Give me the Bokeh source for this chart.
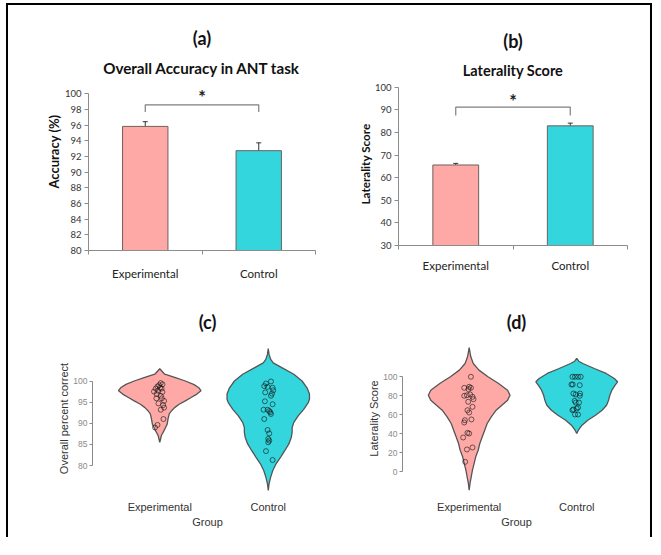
import numpy as np
from bokeh.plotting import figure
from bokeh.models import Range1d, FixedTicker, Title, Whisker, TeeHead, ColumnDataSource
from bokeh.layouts import column, row
from bokeh.embed import file_html
from bokeh.resources import INLINE
from bokeh.core.properties import value

# ---------------- data ----------------
groups = ["Experimental", "Control"]
colors = ["#FFA9A6", "#33D6DD"]

# (a) overall accuracy (%) mean and error
acc_mean = [95.85, 92.75]
acc_err = [0.6, 1.0]
acc_bracket = [98.6, 97.7]   # bracket top, leg bottom
acc_star = 99.6

# (b) laterality score mean and error
lat_mean = [65.6, 82.9]
lat_err = [0.7, 1.2]
lat_bracket = [91.2, 87.5]
lat_star = 93.8

# (c) violin profiles: value levels and relative half widths
c_exp_lv = [102.9, 101.6, 100.8, 100.0, 99.2, 98.4, 97.7, 96.9, 96.1, 95.3, 94.5,
            93.7, 92.9, 92.2, 91.0, 89.8, 89.0, 88.2, 87.1, 85.5]
c_exp_w = [0.0, 0.12, 0.38, 0.62, 0.82, 0.95, 1.0, 0.90, 0.76, 0.62, 0.47,
           0.36, 0.28, 0.23, 0.20, 0.18, 0.14, 0.10, 0.04, 0.0]
c_ctl_lv = [107.7, 106.3, 105.1, 104.3, 103.1, 101.6, 100.0, 98.4, 96.9, 95.7, 94.9,
            93.3, 91.8, 90.2, 89.0, 87.9, 86.7, 85.1, 83.5, 82.0, 80.4, 78.8, 77.3, 75.7, 74.1]
c_ctl_w = [0.0, 0.02, 0.06, 0.12, 0.34, 0.62, 0.82, 0.94, 1.0, 1.0, 0.97,
           0.86, 0.73, 0.62, 0.58, 0.58, 0.56, 0.50, 0.40, 0.30, 0.19, 0.11, 0.06, 0.02, 0.0]

# (c) individual scores and jitter (category units)
c_exp_pts = [99.5, 99.2, 99.0, 98.7, 98.4, 98.2, 98.2, 97.7, 97.5, 97.4, 96.9,
             96.5, 95.9, 95.9, 95.3, 94.7, 94.3, 93.7, 93.2, 91.0, 89.6, 89.0]
c_exp_jit = [0.009, 0.025, -0.006, -0.021, 0.003, -0.037, 0.016, -0.016, -0.053, 0.025, -0.028,
             0.009, -0.031, 0.019, 0.04, -0.012, 0.031, 0.04, 0.009, 0.034, -0.021, -0.044]
c_ctl_pts = [99.9, 99.4, 98.8, 98.6, 98.4, 97.8, 97.3, 97.0, 96.5, 95.2, 94.5, 93.2,
             93.2, 92.9, 92.6, 92.2, 91.0, 88.4, 87.6, 86.3, 85.9, 85.5, 83.4, 81.3]
c_ctl_jit = [0.025, -0.021, -0.037, -0.006, 0.04, 0.046, -0.028, 0.034, 0.025, -0.031, 0.04, -0.043,
             -0.006, 0.009, 0.019, 0.025, -0.037, -0.006, 0.009, 0.0, 0.009, 0.0, -0.021, 0.04]

# (d) violin profiles
d_exp_lv = [130.8, 121.0, 114.0, 107.0, 100.0, 92.9, 85.9, 80.6, 75.4, 70.1, 64.8, 57.9,
            50.8, 43.8, 36.8, 29.8, 22.7, 15.8, 8.7, 1.7, -5.3, -12.3, -19.4]
d_exp_w = [0.0, 0.04, 0.10, 0.24, 0.46, 0.72, 0.94, 1.0, 0.94, 0.80, 0.66, 0.54,
           0.44, 0.38, 0.32, 0.26, 0.22, 0.16, 0.12, 0.08, 0.05, 0.02, 0.0]
d_ctl_lv = [119.3, 116.4, 114.0, 108.7, 103.5, 98.2, 94.7, 91.2, 85.9, 80.6, 75.4, 70.1,
            64.8, 59.6, 54.3, 49.1, 43.8, 40.3]
d_ctl_w = [0.0, 0.05, 0.15, 0.43, 0.72, 0.92, 1.0, 0.94, 0.86, 0.81, 0.78, 0.73,
           0.62, 0.46, 0.27, 0.13, 0.04, 0.0]

# (d) individual scores and jitter
d_exp_pts = [100, 88.4, 89.5, 88.4, 87.0, 80.0, 80.6, 81.4, 78.9, 76.4, 73.7, 68.4,
             64.8, 62.4, 55.1, 54.3, 51.9, 41.0, 40.3, 36.1, 25.6, 23.5, 10.5]
d_exp_jit = [0.016, -0.046, 0.0, 0.016, -0.006, -0.046, -0.021, 0.009, 0.031, 0.04, -0.009, 0.031,
             -0.016, 0.0, 0.021, -0.04, -0.046, -0.016, 0.0, -0.056, 0.031, -0.021, -0.037]
d_ctl_pts = [100, 100, 100, 100, 91.9, 91.9, 91.2, 82.4, 81.4, 82.4, 80.0,
             74.7, 72.9, 72.9, 67.7, 66.6, 65.6, 64.9, 60.3, 60.3]
d_ctl_jit = [-0.04, -0.016, 0.012, 0.037, -0.049, -0.037, 0.028, -0.031, -0.009, 0.031, 0.028,
             -0.019, -0.009, 0.021, 0.012, 0.0, -0.031, -0.04, -0.016, 0.012]

acc_ticks = list(range(80, 101, 2))
lat_ticks = list(range(30, 101, 10))
c_ticks = list(range(80, 101, 5))
d_ticks = list(range(0, 101, 20))

# ---------------- styling helpers ----------------
XC = [i + 0.5 for i in range(len(groups))]
LABELS = {XC[i]: groups[i] for i in range(len(groups))}
XL_FONT = "Lato"
R_FONT = "Liberation Sans"


def base_fig(fw, fh, ml, mr, mt, mb, xr, yr):
    p = figure(frame_width=fw, frame_height=fh, x_range=Range1d(*xr), y_range=Range1d(*yr),
               output_backend="svg", toolbar_location=None, tools="")
    p.min_border_left = ml
    p.min_border_right = mr
    p.min_border_top = mt
    p.min_border_bottom = mb
    p.outline_line_color = None
    p.xgrid.visible = False
    p.ygrid.visible = False
    p.background_fill_color = "white"
    p.border_fill_color = "white"
    return p


def add_titles(p, top, sub, top_size, sub_size, top_stand, sub_stand):
    if sub is not None:
        p.add_layout(Title(text=sub, align="center", text_font=XL_FONT, text_font_size=sub_size,
                           text_font_style="bold", text_color="#111111", standoff=sub_stand), "above")
    p.add_layout(Title(text=top, align="center", text_font=XL_FONT, text_font_size=top_size,
                       text_font_style="bold", text_color="#111111", standoff=top_stand), "above")


def bar_panel(p, means, errs, base, ticks, bracket, star, ylabel, ylab_size, x_stand, ylab_stand):
    src = ColumnDataSource(dict(x=XC, top=means, color=colors,
                                upper=[m + e for m, e in zip(means, errs)],
                                lower=[m - e for m, e in zip(means, errs)]))
    p.vbar(x="x", top="top", bottom=base, width=0.4, fill_color="color",
           line_color="#6e6060", line_width=1, source=src)
    p.add_layout(Whisker(base="x", upper="upper", lower="lower", source=src,
                         line_color="#333333", line_width=1,
                         upper_head=TeeHead(size=5, line_color="#333333", line_width=1),
                         lower_head=TeeHead(size=5, line_color="#333333", line_width=1)))
    p.line(x=[XC[0], XC[0], XC[1], XC[1]], y=[bracket[1], bracket[0], bracket[0], bracket[1]],
           line_color="#7f7f7f", line_width=1.2)
    p.text(x=[(XC[0] + XC[1]) / 2], y=[star], text=["*"], text_align="center",
           text_baseline="middle", text_font=value(XL_FONT), text_font_size="18px",
           text_font_style="bold", text_color="#222222")
    xa = p.xaxis[0]
    xa.ticker = FixedTicker(ticks=XC, minor_ticks=[0, 1, 2])
    xa.major_label_overrides = LABELS
    xa.major_tick_line_color = None
    xa.major_tick_in = 0
    xa.major_tick_out = 0
    xa.minor_tick_line_color = "#8c8c8c"
    xa.minor_tick_in = 0
    xa.minor_tick_out = 4
    xa.axis_line_color = "#8c8c8c"
    xa.major_label_text_font = XL_FONT
    xa.major_label_text_font_size = "11.5px"
    xa.major_label_text_color = "#222222"
    xa.major_label_standoff = x_stand
    ya = p.yaxis[0]
    ya.ticker = FixedTicker(ticks=ticks, minor_ticks=[])
    ya.bounds = (ticks[0], ticks[-1])
    ya.axis_line_color = "#8c8c8c"
    ya.major_tick_line_color = "#8c8c8c"
    ya.major_tick_in = 0
    ya.major_tick_out = 4
    ya.minor_tick_out = 0
    ya.minor_tick_in = 0
    ya.major_label_standoff = 3
    ya.major_label_text_font = XL_FONT
    ya.major_label_text_font_size = "9.5px"
    ya.major_label_text_color = "#333333"
    if ylab_stand is None:
        p.add_layout(Title(text=ylabel, align="right", offset=32, text_font=XL_FONT,
                           text_font_size=ylab_size, text_font_style="bold",
                           text_color="#111111", standoff=0), "left")
    else:
        ya.axis_label = ylabel
        ya.axis_label_text_font = XL_FONT
        ya.axis_label_text_font_style = "bold"
        ya.axis_label_text_font_size = ylab_size
        ya.axis_label_text_color = "#111111"
        ya.axis_label_standoff = ylab_stand


def violin_panel(p, profiles, pts, jits, ticks, ylabel, ylab_stand):
    half = 0.38
    for i, (lv, w) in enumerate(profiles):
        lv = np.array(lv, dtype=float)
        w = np.array(w, dtype=float) * half
        xs = np.concatenate([XC[i] + w, (XC[i] - w)[::-1]])
        ys = np.concatenate([lv, lv[::-1]])
        p.patch(xs, ys, fill_color=colors[i], line_color="#555555", line_width=1.3)
    for i in range(len(groups)):
        p.scatter(x=XC[i] + np.array(jits[i]), y=pts[i], marker="circle", size=5,
                  fill_color=None, line_color="#111111", line_alpha=0.75, line_width=0.8)
    xa = p.xaxis[0]
    xa.ticker = FixedTicker(ticks=XC, minor_ticks=[])
    xa.major_label_overrides = LABELS
    xa.axis_line_color = None
    xa.major_tick_line_color = None
    xa.major_tick_in = 0
    xa.major_tick_out = 0
    xa.minor_tick_in = 0
    xa.minor_tick_out = 0
    xa.major_label_standoff = 2
    xa.major_label_text_font = R_FONT
    xa.major_label_text_font_size = "11px"
    xa.major_label_text_color = "#333333"
    xa.axis_label = "Group"
    xa.axis_label_text_font = R_FONT
    xa.axis_label_text_font_style = "normal"
    xa.axis_label_text_font_size = "11px"
    xa.axis_label_text_color = "#333333"
    xa.axis_label_standoff = 0
    ya = p.yaxis[0]
    ya.ticker = FixedTicker(ticks=ticks, minor_ticks=[])
    ya.bounds = (ticks[0], ticks[-1])
    ya.axis_line_color = "#8a8a8a"
    ya.major_tick_line_color = "#8a8a8a"
    ya.major_tick_in = 0
    ya.major_tick_out = 3
    ya.minor_tick_in = 0
    ya.minor_tick_out = 0
    ya.major_label_standoff = 2
    ya.major_label_text_font = R_FONT
    ya.major_label_text_font_size = "8.5px"
    ya.major_label_text_color = "#8a8a8a"
    ya.axis_label = ylabel
    ya.axis_label_text_font = R_FONT
    ya.axis_label_text_font_style = "normal"
    ya.axis_label_text_font_size = "11px"
    ya.axis_label_text_color = "#333333"
    ya.axis_label_standoff = ylab_stand


# (a)
pa = base_fig(227, 168, 80, 23, 76, 39, (0, 2), (80, 80 + 168 / 7.83))
bar_panel(pa, acc_mean, acc_err, 80, acc_ticks, acc_bracket, acc_star, "Accuracy (%)", "13px", 12, None)
add_titles(pa, "(a)", "Overall Accuracy in ANT task", "18px", "15.2px", 6, 11)

# (b)
pb = base_fig(229, 163, 60, 23, 77, 43, (0, 2), (30, 30 + 163 / 2.262))
bar_panel(pb, lat_mean, lat_err, 30, lat_ticks, lat_bracket, lat_star, "Laterality Score", "11.7px", 9, 0)
add_titles(pb, "(b)", "Laterality Score", "18px", "14.5px", 7, 8)

# (c)
pc = base_fig(230, 160, 84, 16, 50, 39, (-0.12, 2.0), (72.19, 110.06))
violin_panel(pc, [(c_exp_lv, c_exp_w), (c_ctl_lv, c_ctl_w)], [c_exp_pts, c_ctl_pts],
             [c_exp_jit, c_ctl_jit], c_ticks, "Overall percent correct", 0)
add_titles(pc, "(c)", None, "18px", None, 12, None)

# (d)
pd_ = base_fig(228, 160, 64, 20, 50, 39, (-0.12, 2.0), (-28.1, 140.3))
violin_panel(pd_, [(d_exp_lv, d_exp_w), (d_ctl_lv, d_ctl_w)], [d_exp_pts, d_ctl_pts],
             [d_exp_jit, d_ctl_jit], d_ticks, "Laterality Score", 0)
add_titles(pd_, "(d)", None, "18px", None, 11, None)

layout = column(row(pa, pb), row(pc, pd_), margin=(3, 0, 0, 6),
                styles={"border-top": "2px solid black", "border-left": "2px solid black",
                        "border-right": "2px solid black"})

open("out.html", "w").write(file_html(layout, INLINE))
